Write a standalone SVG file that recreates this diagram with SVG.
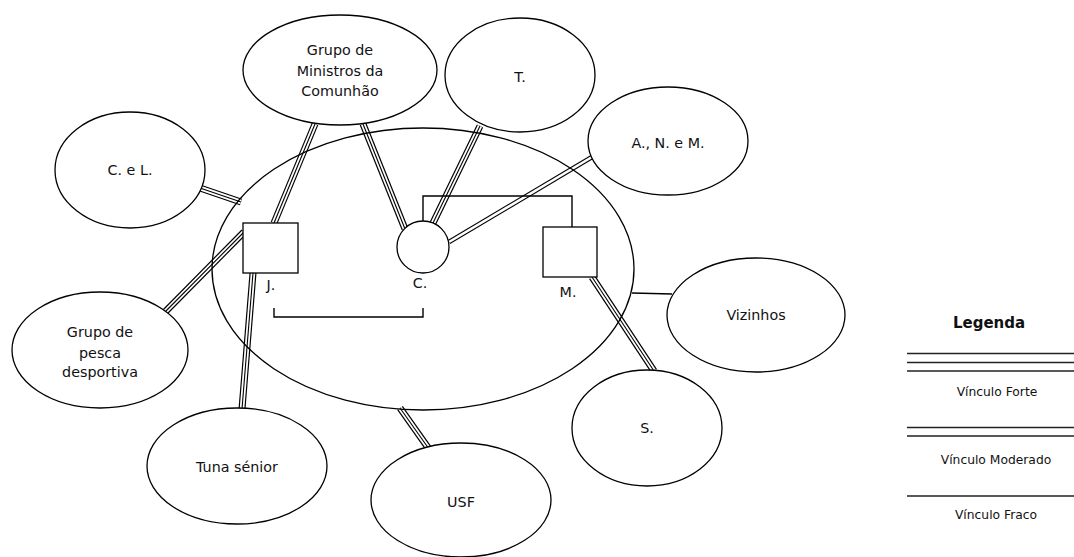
<svg xmlns="http://www.w3.org/2000/svg" xmlns:xlink="http://www.w3.org/1999/xlink" width="1074" height="557" viewBox="0 0 1074 557">
<style>
.bg{fill:#fff}
.node{fill:#fff;stroke:#000;stroke-width:1.3}
.house{fill:none;stroke:#000;stroke-width:1.3}
.sq{fill:#fff;stroke:#000;stroke-width:1.3}
.t{font-family:"DejaVu Sans",Verdana,sans-serif;font-size:14.3px;fill:#111;text-anchor:middle}
.lg{font-family:"DejaVu Sans",Verdana,sans-serif;font-size:12.3px;fill:#111;text-anchor:middle}
.lgh{font-family:"DejaVu Sans",Verdana,sans-serif;font-size:15px;font-weight:bold;fill:#111;text-anchor:middle}
.f1{fill:none;stroke:#000;stroke-width:7}
.f2{fill:none;stroke:#fff;stroke-width:4.6}
.f3{fill:none;stroke:#000;stroke-width:1.1}
.lf{fill:none;stroke:#222;stroke-width:1.5}
.m1{fill:none;stroke:#000;stroke-width:4.8}
.m2{fill:none;stroke:#fff;stroke-width:2.6}
.w{fill:none;stroke:#000;stroke-width:1.3}
.gen{fill:none;stroke:#000;stroke-width:1.4}
</style>
<defs>
<path id="c1" d="M315,124 L274,223"/>
<path id="c2" d="M363,124 L405,229"/>
<path id="c3" d="M480,126 L433,223"/>
<path id="c4" d="M592,157 L449,242"/>
<path id="c5" d="M200,188 L241,202"/>
<path id="c6" d="M164,313 L244,232"/>
<path id="c7" d="M253,273 L242,409"/>
<path id="c8" d="M400,408 L429,449"/>
<path id="c9" d="M592,277 L654,371"/>
<path id="c10" d="M632,293 L672,294"/>
</defs>
<rect class="bg" x="0" y="0" width="1074" height="557"/>
<g id="connectors">
<use href="#c1" class="f1"/><use href="#c1" class="f2"/><use href="#c1" class="f3"/>
<use href="#c2" class="f1"/><use href="#c2" class="f2"/><use href="#c2" class="f3"/>
<use href="#c3" class="f1"/><use href="#c3" class="f2"/><use href="#c3" class="f3"/>
<use href="#c4" class="m1"/><use href="#c4" class="m2"/>
<use href="#c5" class="f1"/><use href="#c5" class="f2"/><use href="#c5" class="f3"/>
<use href="#c6" class="f1"/><use href="#c6" class="f2"/><use href="#c6" class="f3"/>
<use href="#c7" class="f1"/><use href="#c7" class="f2"/><use href="#c7" class="f3"/>
<use href="#c8" class="f1"/><use href="#c8" class="f2"/><use href="#c8" class="f3"/>
<use href="#c9" class="f1"/><use href="#c9" class="f2"/><use href="#c9" class="f3"/>
<use href="#c10" class="w"/>
<path class="gen" d="M423,221 V196 H572 V227"/>
<path class="gen" d="M274,308 V317 H423 V308"/>
</g>
<g id="household"><ellipse class="house" cx="423" cy="269" rx="211" ry="141"/></g>
<g id="node-ministros"><ellipse class="node" cx="340" cy="70" rx="97" ry="55"/>
<text class="t" x="340" y="55">Grupo de</text><text class="t" x="340" y="76">Ministros da</text><text class="t" x="340" y="96">Comunhão</text></g>
<g id="node-t"><ellipse class="node" cx="520" cy="75" rx="75" ry="57"/><text class="t" x="520" y="82">T.</text></g>
<g id="node-anm"><ellipse class="node" cx="668" cy="141" rx="80" ry="54"/><text class="t" x="668" y="148">A., N. e M.</text></g>
<g id="node-cl"><ellipse class="node" cx="130" cy="170" rx="75" ry="58"/><text class="t" x="130" y="175">C. e L.</text></g>
<g id="node-pesca"><ellipse class="node" cx="100" cy="350" rx="88" ry="58"/>
<text class="t" x="100" y="337">Grupo de</text><text class="t" x="100" y="358">pesca</text><text class="t" x="100" y="377">desportiva</text></g>
<g id="node-tuna"><ellipse class="node" cx="237" cy="466" rx="90" ry="58"/><text class="t" x="237" y="472">Tuna sénior</text></g>
<g id="node-usf"><ellipse class="node" cx="461" cy="500" rx="90" ry="57"/><text class="t" x="461" y="507">USF</text></g>
<g id="node-s"><ellipse class="node" cx="647" cy="428" rx="75" ry="58"/><text class="t" x="647" y="433">S.</text></g>
<g id="node-vizinhos"><ellipse class="node" cx="756" cy="315" rx="89" ry="57"/><text class="t" x="756" y="320">Vizinhos</text></g>
<g id="node-j"><rect class="sq" x="243" y="223" width="55" height="50"/><text class="t" x="271" y="290">J.</text></g>
<g id="node-c"><circle class="sq" cx="423" cy="247" r="26"/><text class="t" x="420" y="288">C.</text></g>
<g id="node-m"><rect class="sq" x="543" y="227" width="54" height="50"/><text class="t" x="568" y="297">M.</text></g>
<g id="legend">
<text class="lgh" x="989" y="328">Legenda</text>
<path class="lf" d="M907,353.5 H1074 M907,362.5 H1074 M907,371 H1074"/>
<text class="lg" x="997" y="396">Vínculo Forte</text>
<path class="lf" d="M907,427.5 H1074 M907,436 H1074"/>
<text class="lg" x="996" y="464">Vínculo Moderado</text>
<path class="lf" d="M907,496 H1074"/>
<text class="lg" x="996" y="519">Vínculo Fraco</text>
</g>
</svg>
